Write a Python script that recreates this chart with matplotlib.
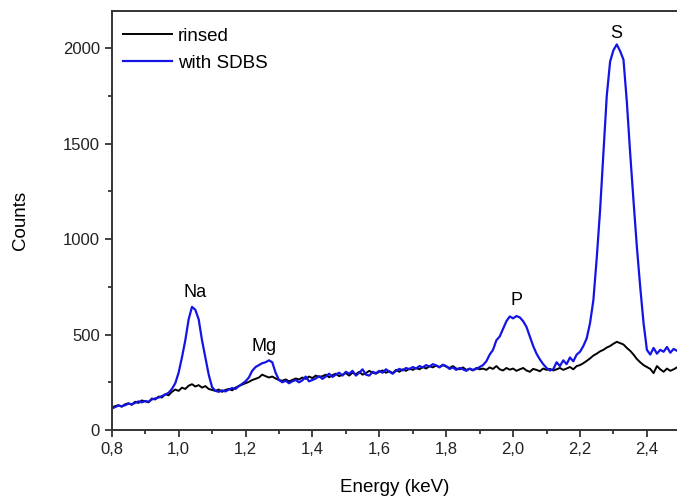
import numpy as np
import matplotlib.pyplot as plt
from matplotlib.ticker import MultipleLocator, FuncFormatter

plt.rcParams['font.family'] = ['Liberation Sans', 'DejaVu Sans']

# energy grid (keV), 0.01 step
energy = np.round(np.arange(0.80, 2.495, 0.01), 2)

rinsed = [
    118, 125, 130, 122, 135, 140, 132, 148, 142, 155, 150, 145, 165, 160, 175, 170, 188, 182,
    200, 212, 205, 222, 215, 232, 240, 228, 235, 222, 230, 215, 210,
    205, 212, 200, 210, 215, 208, 222, 230, 238, 245,
    252, 262, 268, 275, 290, 282, 275, 280, 270, 262,
    258, 265, 255, 262, 270, 265, 275, 268, 280, 272,
    285, 278, 282, 290, 276, 288, 295, 282, 290, 298,
    285, 300, 292, 305, 290, 298, 310, 300, 295, 305,
    312, 300, 308, 298, 315, 305, 318, 310, 322, 315,
    325, 318, 330, 322, 335, 328, 338, 330, 340, 332,
    325, 335, 322, 318, 328, 315, 320, 312, 325, 318,
    322, 315, 328, 320, 335, 318, 312, 325, 316, 322,
    310, 318, 325, 312, 305, 320, 315, 308, 322, 315,
    320, 312, 318, 325, 315, 322, 330, 318, 335, 340,
    350, 362, 375, 390, 400, 412, 420, 432, 440, 452,
    462, 455, 448, 430, 415, 395, 372, 355, 340, 330,
    320, 298, 335, 318, 305, 322, 310, 318, 328,
]

with_sdbs = [
    112, 120, 128, 125, 130, 138, 135, 142, 150, 145, 152, 148, 160, 165, 170, 178, 185, 195,
    215, 245, 300, 380, 470, 580, 645, 630, 580, 470, 380, 290, 225,
    205, 200, 208, 202, 212, 220, 215, 230, 242, 255,
    275, 310, 330, 340, 350, 355, 365, 355, 300, 262,
    250, 258, 245, 255, 262, 250, 260, 280, 255, 262,
    270, 282, 268, 280, 295, 278, 290, 300, 285, 305,
    295, 310, 285, 300, 318, 290, 285, 305, 298, 310,
    300, 318, 305, 295, 310, 320, 312, 325, 318, 330,
    322, 335, 328, 340, 332, 345, 338, 328, 342, 335,
    320, 328, 315, 325, 318, 310, 322, 315, 320, 330,
    340, 360, 395, 420, 470, 490, 530, 570, 595, 585,
    597, 590, 570, 540, 490, 440, 400, 370, 345, 325,
    312, 318, 355, 335, 365, 345, 380, 360, 395, 410,
    440, 480, 560, 680, 900, 1150, 1450, 1750, 1930, 1990,
    2020, 1985, 1940, 1720, 1450, 1200, 960, 750, 560, 420,
    395, 430, 400, 420, 410, 435, 405, 425, 415,
]

peak_names = ['Na', 'Mg', 'P', 'S']
peak_x = [1.05, 1.255, 2.01, 2.307]
peak_y = [722, 435, 680, 2078]

fig = plt.figure(figsize=(6.77, 5.01), dpi=100)
ax = fig.add_axes([0.165, 0.1417, 0.835, 0.8363])

ax.plot(energy, rinsed, color='black', lw=1.4, label='rinsed')
ax.plot(energy, with_sdbs, color='#1414e6', lw=1.6, label='with SDBS')

for name, px, py in zip(peak_names, peak_x, peak_y):
    ax.text(px, py, name, ha='center', va='center', fontsize=13)

ax.set_xlim(0.8, 2.49)
ax.set_ylim(0, 2195)
ax.xaxis.set_major_locator(MultipleLocator(0.2))
ax.xaxis.set_minor_locator(MultipleLocator(0.1))
ax.yaxis.set_major_locator(MultipleLocator(500))
ax.yaxis.set_minor_locator(MultipleLocator(250))
ax.xaxis.set_major_formatter(FuncFormatter(lambda v, p: f'{v:.1f}'.replace('.', ',')))

ax.tick_params(which='both', direction='out', width=1.2, labelsize=12, colors='#222222')
ax.tick_params(which='major', length=5)
ax.tick_params(which='minor', length=3)
for side in ['left', 'bottom', 'top']:
    ax.spines[side].set_linewidth(1.4)
    ax.spines[side].set_color('#333333')
ax.spines['right'].set_visible(False)

ax.set_xlabel('Energy (keV)', fontsize=13.5, labelpad=16)
ax.set_ylabel('Counts', fontsize=13.5, labelpad=24)

ax.legend(loc='upper left', bbox_to_anchor=(-0.009, 1.0), frameon=False,
          fontsize=13.5, handlelength=2.6, handletextpad=0.3,
          labelspacing=0.5, borderaxespad=0.5)

fig.savefig('out.png', dpi=100)
